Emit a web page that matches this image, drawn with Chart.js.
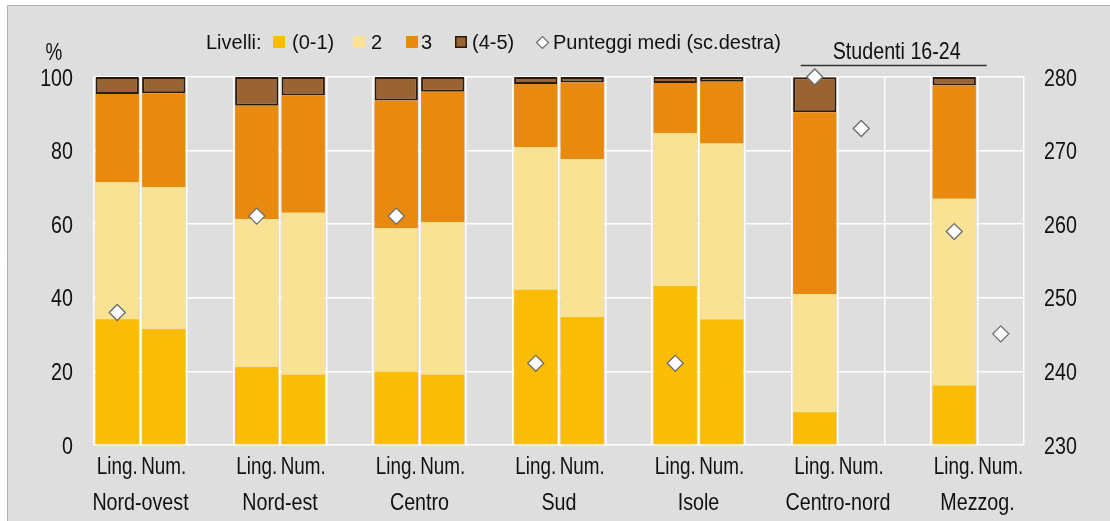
<!DOCTYPE html>
<html>
<head>
<meta charset="utf-8">
<script src="https://cdn.jsdelivr.net/npm/chart.js@4.4.1/dist/chart.umd.min.js"></script>
<style>
html,body{margin:0;padding:0;background:#fff;}
#wrap{width:1110px;height:521px;}
</style>
</head>
<body>
<div id="wrap"><canvas id="c" width="1110" height="521"></canvas></div>
<script>
// ---- data ----
const groups = ['Nord-ovest','Nord-est','Centro','Sud','Isole','Centro-nord','Mezzog.'];
const barLabels = ['Ling.','Num.'];
const levelNames = ['(0-1)','2','3','(4-5)'];
const legendPrefix = 'Livelli:';
const scoreName = 'Punteggi medi (sc.destra)';
const bracketLabel = 'Studenti 16-24';
const unitLabel = '%';
const leftTicks = [0,20,40,60,80,100];
const rightTicks = [230,240,250,260,270,280];

const level01Ling = [34.2, 21.2, 19.9, 42.2, 43.2, 8.9, 16.2];
const level01Num  = [31.5, 19.1, 19.1, 34.8, 34.1, null, null];
const level2Ling  = [37.2, 40.2, 39.0, 38.7, 41.6, 32.1, 50.7];
const level2Num   = [38.6, 44.0, 41.5, 42.9, 47.8, null, null];
const level3Ling  = [24.0, 30.8, 34.7, 17.2, 13.6, 49.4, 30.8];
const level3Num   = [25.5, 31.9, 35.4, 20.8, 16.8, null, null];
const level45Ling = [4.6, 7.8, 6.4, 1.9, 1.6, 9.5, 2.3];
const level45Num  = [4.4, 5.0, 4.0, 1.5, 1.3, null, null];
const scoreLing   = [248.0, 261.1, 261.1, 241.1, 241.1, 280.0, 259.0];
const scoreNum    = [null, null, null, null, null, 273.0, 245.1];

// ---- build slot arrays (Ling, Num, gap per group; no gap after last) ----
const slotLabels = [];
groups.forEach((g,i)=>{ slotLabels.push(barLabels[0], barLabels[1]); if(i<groups.length-1) slotLabels.push(''); });
function slots(lingArr, numArr){
  const out=[];
  groups.forEach((g,i)=>{ out.push(lingArr[i], numArr[i]); if(i<groups.length-1) out.push(null); });
  return out;
}
const lingIndex = groups.map((g,i)=>i*3);

const colors = ['#FBBC05','#F9E293','#E88A10','#9A6432'];
const REG = '"Liberation Sans",Arial,sans-serif';
const TXT = '#111111';

const levelData = [[level01Ling,level01Num],[level2Ling,level2Num],[level3Ling,level3Num],[level45Ling,level45Num]];
const datasets = levelData.map((d,k)=>({
  type:'bar',
  label: levelNames[k],
  data: slots(d[0], d[1]),
  backgroundColor: colors[k],
  borderColor: k===3 ? '#2a1a0c' : colors[k],
  borderWidth: k===3 ? 2 : 0,
  borderSkipped: false,
  stack: 'lev',
  yAxisID: 'y',
  order: k+1,
  barPercentage: 0.93,
  categoryPercentage: 1.0
}));
datasets.push({
  type:'line',
  label: scoreName,
  data: slots(scoreLing, scoreNum),
  showLine:false,
  pointStyle:'rectRot',
  pointRadius:8,
  pointHoverRadius:8,
  pointBackgroundColor:'#ffffff',
  pointBorderColor:'#6a6a6a',
  pointBorderWidth:1.3,
  yAxisID:'y2',
  stack:'score',
  order:0,
  clip:false
});

// narrow (Arial Narrow-like) text: Liberation Sans squeezed horizontally
function narrow(ctx, text, x, y, size, align){
  ctx.save();
  ctx.font = size + 'px ' + REG;
  ctx.textBaseline = 'alphabetic';
  ctx.textAlign = align;
  ctx.translate(x, y);
  ctx.scale(0.82, 1);
  ctx.fillText(text, 0, 0);
  ctx.restore();
}

const deco = {
  id:'deco',
  beforeDraw(chart){
    const ctx = chart.ctx, W = chart.width, H = chart.height;
    ctx.save();
    ctx.fillStyle='#ffffff'; ctx.fillRect(0,0,W,H);
    ctx.fillStyle='#dedede'; ctx.fillRect(7,5,W-7,H-5);
    ctx.strokeStyle='#b0b0b0'; ctx.lineWidth=1;
    ctx.beginPath(); ctx.moveTo(7.5,H); ctx.lineTo(7.5,5.5); ctx.lineTo(W,5.5); ctx.stroke();
    ctx.restore();
  },
  afterDraw(chart){
    const ctx = chart.ctx, xs = chart.scales.x, ys = chart.scales.y, y2 = chart.scales.y2;
    ctx.save();
    ctx.fillStyle = TXT;
    // tick labels
    slotLabels.forEach((l,i)=>{ if(l) narrow(ctx, l, xs.getPixelForValue(i), 474, 23, 'center'); });
    leftTicks.forEach(v=> narrow(ctx, String(v), 73, ys.getPixelForValue(v)+8.5, 24, 'right'));
    rightTicks.forEach(v=> narrow(ctx, String(v), 1044, y2.getPixelForValue(v)+8.5, 24, 'left'));
    // group labels
    groups.forEach((g,i)=>{
      const a = xs.getPixelForValue(i*3), b = xs.getPixelForValue(i*3+1);
      narrow(ctx, g, (a+b)/2, 509.5, 24, 'center');
    });
    // % unit
    narrow(ctx, unitLabel, 54, 60, 23, 'center');
    // bracket
    const s0 = xs.getPixelForValue(lingIndex[5]) - 14;
    const s1 = xs.getPixelForValue(lingIndex[6]+1) - 14;
    ctx.strokeStyle='#333'; ctx.lineWidth=1.5;
    ctx.beginPath(); ctx.moveTo(s0,65.5); ctx.lineTo(s1,65.5); ctx.stroke();
    narrow(ctx, bracketLabel, (s0+s1)/2+3, 59, 24, 'center');
    // legend
    ctx.font = '20px '+REG; ctx.textAlign='left'; ctx.textBaseline='alphabetic';
    ctx.fillText(legendPrefix, 206, 49);
    const sqX = [273, 353, 406, 455];
    const txX = [292, 371, 421, 472];
    levelNames.forEach((n,k)=>{
      ctx.fillStyle = colors[k];
      ctx.fillRect(sqX[k], 36, 12, 12);
      if(k===3){ ctx.strokeStyle='#2a1a0c'; ctx.lineWidth=1.5; ctx.strokeRect(sqX[k]+0.75,36.75,10.5,10.5); }
      ctx.fillStyle=TXT;
      ctx.fillText(n, txX[k], 49);
    });
    const dx=542.5, dy=42.5, r=6;
    ctx.fillStyle='#fff'; ctx.strokeStyle='#6a6a6a'; ctx.lineWidth=1.2;
    ctx.beginPath(); ctx.moveTo(dx-r,dy); ctx.lineTo(dx,dy-r); ctx.lineTo(dx+r,dy); ctx.lineTo(dx,dy+r); ctx.closePath(); ctx.fill(); ctx.stroke();
    ctx.fillStyle=TXT;
    ctx.fillText(scoreName, 553, 49);
    ctx.restore();
  }
};

new Chart(document.getElementById('c'), {
  data:{ labels: slotLabels, datasets },
  options:{
    responsive:false,
    animation:false,
    events:[],
    layout:{ padding:{ top:77, left:0, right:0, bottom:0 } },
    plugins:{ legend:{display:false}, tooltip:{enabled:false}, title:{display:false} },
    scales:{
      x:{
        stacked:true,
        offset:true,
        grid:{ color:'#ffffff', lineWidth:1.5, offset:true, drawTicks:false },
        border:{ display:false },
        ticks:{ display:false, autoSkip:false, maxRotation:0 },
        afterFit(s){ s.height = 76; }
      },
      y:{
        stacked:true, position:'left', min:0, max:100,
        afterBuildTicks(s){ s.ticks = leftTicks.map(v=>({value:v})); },
        grid:{ color:'#ffffff', lineWidth:1.5, drawTicks:false },
        border:{ display:false },
        ticks:{ display:false },
        afterFit(s){ s.width = 94; }
      },
      y2:{
        position:'right', min:230, max:280,
        afterBuildTicks(s){ s.ticks = rightTicks.map(v=>({value:v})); },
        grid:{ drawOnChartArea:false, drawTicks:false },
        border:{ display:false },
        ticks:{ display:false },
        afterFit(s){ s.width = 86; }
      }
    }
  },
  plugins:[deco]
});
</script>
</body>
</html>
